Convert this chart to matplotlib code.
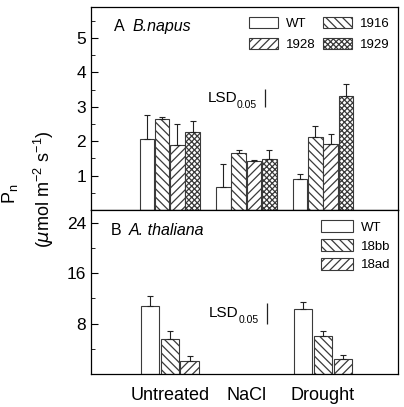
import numpy as np
import matplotlib
matplotlib.use("Agg")
import matplotlib.pyplot as plt
from matplotlib.ticker import MultipleLocator

plt.rcParams['font.family'] = ['Liberation Sans', 'DejaVu Sans']
plt.rcParams['hatch.linewidth'] = 0.9

# data
treatments = ['Untreated', 'NaCl', 'Drought']

napus_lines = ['WT', '1916', '1928', '1929']
napus_mean = {
    'WT':   [2.07, 0.67, 0.89],
    '1916': [2.65, 1.66, 2.12],
    '1928': [1.90, 1.41, 1.93],
    '1929': [2.27, 1.49, 3.31],
}
napus_err = {
    'WT':   [0.70, 0.66, 0.16],
    '1916': [0.06, 0.09, 0.33],
    '1928': [0.61, 0.04, 0.29],
    '1929': [0.33, 0.26, 0.36],
}
napus_lsd = (2.98, 3.53)

thal_lines = ['WT', '18bb', '18ad']
thal_mean = {
    'WT':   [10.75, np.nan, 10.38],
    '18bb': [5.60, np.nan, 6.08],
    '18ad': [2.00, np.nan, 2.43],
}
thal_err = {
    'WT':   [1.60, np.nan, 1.05],
    '18bb': [1.17, np.nan, 0.70],
    '18ad': [0.90, np.nan, 0.57],
}
thal_lsd = (8.0, 11.2)

hatches = {'WT': '', '1916': '\\\\\\\\', '1928': '////', '1929': 'xxxxxx',
           '18bb': '\\\\\\\\', '18ad': '////'}

fig = plt.figure(figsize=(4.04, 4.07), dpi=100)
axA = fig.add_axes([0.225, 0.484, 0.76, 0.499])
axB = fig.add_axes([0.225, 0.081, 0.76, 0.403])

x = np.arange(1, len(treatments) + 1)


def draw_group(ax, lines, means, errs, width, step):
    n = len(lines)
    for i, name in enumerate(lines):
        pos = x + (i - (n - 1) / 2) * step
        m = np.array(means[name], dtype=float)
        e = np.array(errs[name], dtype=float)
        ax.bar(pos, m, width, facecolor='white', edgecolor='#3a3a3a',
               linewidth=0.8, hatch=hatches[name], label=name, zorder=2)
        ax.errorbar(pos, m, yerr=[np.zeros_like(e), e], fmt='none',
                    ecolor='#222222', elinewidth=0.8, capsize=2.5,
                    capthick=0.8, zorder=3)


draw_group(axA, napus_lines, napus_mean, napus_err, 0.19, 0.2)
draw_group(axB, thal_lines, thal_mean, thal_err, 0.24, 0.26)

for ax in (axA, axB):
    ax.set_xlim(-0.03, 3.98)
    ax.tick_params(axis='y', which='both', direction='in', right=False,
                   labelsize=12.5)
    ax.tick_params(axis='y', which='major', length=5)
    ax.tick_params(axis='y', which='minor', length=3)
    for s in ax.spines.values():
        s.set_linewidth(0.9)

axA.set_ylim(0, 5.9)
axA.yaxis.set_minor_locator(MultipleLocator(0.5))
axA.set_yticks([1, 2, 3, 4, 5])
axA.set_xticks([])

axB.set_ylim(0, 26)
axB.set_yticks([8, 16, 24])
axB.yaxis.set_minor_locator(MultipleLocator(4))
axB.set_xticks(x)
axB.set_xticklabels(treatments, fontsize=13)
axB.tick_params(axis='x', length=0, pad=9)

# panel titles
axA.text(0.075, 0.905, 'A', transform=axA.transAxes, fontsize=11.5, va='center')
axA.text(0.135, 0.905, 'B.napus', transform=axA.transAxes, fontsize=11.5,
         style='italic', va='center')
axB.text(0.065, 0.875, 'B', transform=axB.transAxes, fontsize=11.5, va='center')
axB.text(0.125, 0.875, 'A. thaliana', transform=axB.transAxes, fontsize=11.5,
         style='italic', va='center')

# LSD markers
for ax, lsd, xl in ((axA, napus_lsd, 2.25), (axB, thal_lsd, 2.27)):
    ax.vlines(xl, *lsd, color='#222222', linewidth=0.9)
    ax.annotate('0.05', (xl, np.mean(lsd)), xytext=(-6, -5),
                textcoords='offset points', ha='right', va='center',
                fontsize=7.5)
    ax.annotate('LSD', (xl, np.mean(lsd)), xytext=(-20.5, 0),
                textcoords='offset points', ha='right', va='center',
                fontsize=11)

# legends
hA, lA = axA.get_legend_handles_labels()
order = [0, 2, 1, 3]
axA.legend([hA[i] for i in order], [lA[i] for i in order], ncol=2,
           loc='upper right', bbox_to_anchor=(1.0, 0.99), borderaxespad=0.2,
           frameon=False, fontsize=9.5, handlelength=2.2, handleheight=0.9,
           columnspacing=0.6, handletextpad=0.6, labelspacing=0.6)
axB.legend(loc='upper right', bbox_to_anchor=(1.0, 0.985), borderaxespad=0.2,
           frameon=False, fontsize=9.5, handlelength=2.4, handleheight=1.0,
           handletextpad=0.6, labelspacing=0.4)

# y label
fig.text(0.025, 0.525, r'P$_\mathregular{n}$', rotation=90, fontsize=13,
         ha='center', va='center')
fig.text(0.11, 0.535, r'($\mu$mol m$^{\mathregular{-2}}$ s$^{\mathregular{-1}}$)',
         rotation=90, fontsize=13, ha='center', va='center')

fig.savefig('out.png', dpi=100)
